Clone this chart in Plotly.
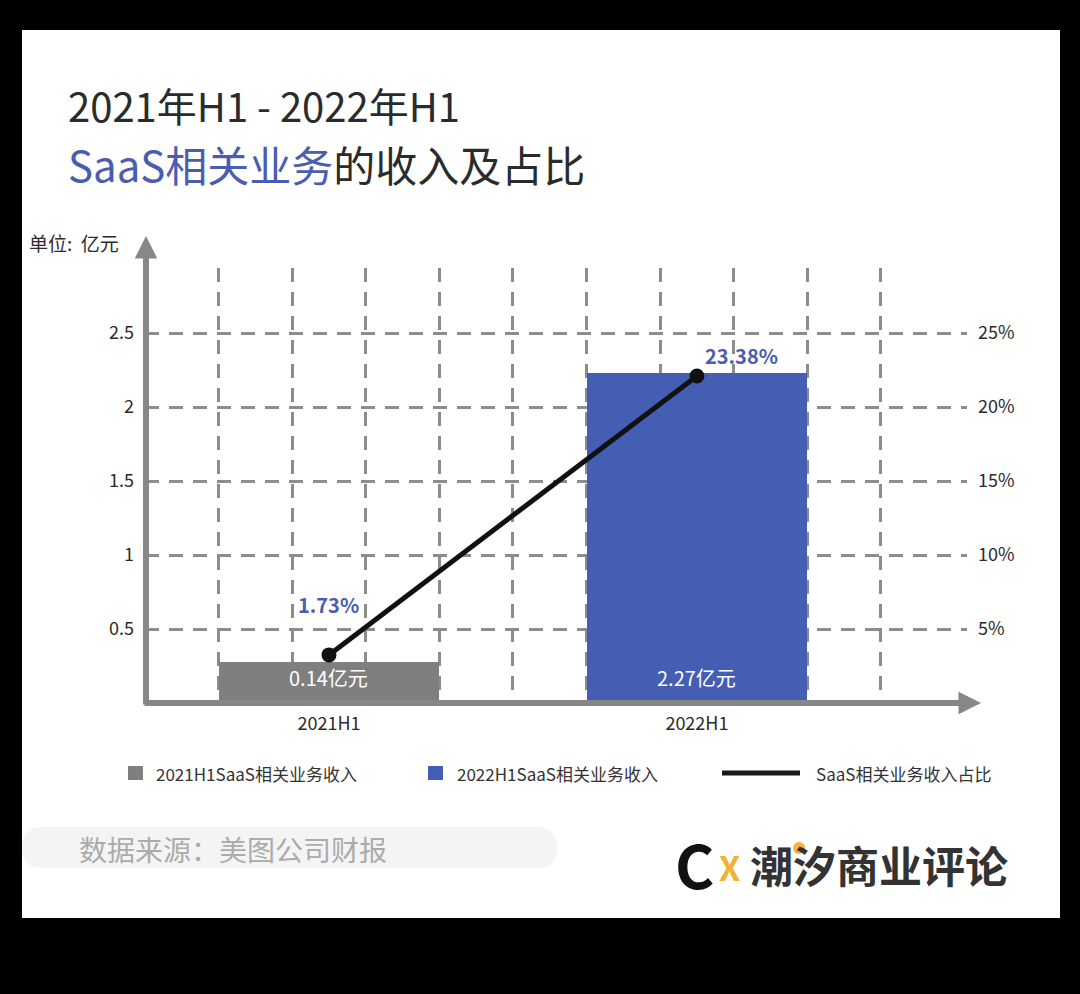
import plotly.graph_objects as go

# ---------------- data ----------------
categories = ["2021H1", "2022H1"]
revenue_values = [0.28, 2.23]          # bar heights as drawn (亿元)
revenue_labels = ["0.14亿元", "2.27亿元"]
share_values = [3.25, 22.1]            # line points as drawn (%)
share_labels = ["1.73%", "23.38%"]
series_names = ["2021H1SaaS相关业务收入", "2022H1SaaS相关业务收入", "SaaS相关业务收入占比"]
left_ticks = [0.5, 1, 1.5, 2, 2.5]
left_ticktext = ["0.5", "1", "1.5", "2", "2.5"]
right_ticks = [5, 10, 15, 20, 25]
right_ticktext = ["5%", "10%", "15%", "20%", "25%"]

# ---------------- layout helpers ----------------
W, H = 1080, 994
L, R, T, B = 145, 967, 268, 703
FONT = "Noto Sans CJK SC"
GRID = "#8c8c8c"
AXIS = "#878787"
BLUE = "#435eb2"
GRAY = "#7f7f7f"
TXT = "#2b2b2b"


def px(x):
    return (x - L) / (R - L)


def py(y):
    return (B - y) / (B - T)


x_pos = [2.5 + 5 * i for i in range(len(categories))]

fig = go.Figure()
fig.add_trace(go.Bar(
    x=x_pos, y=revenue_values, width=3,
    marker=dict(color=[GRAY, BLUE], line=dict(width=0)),
    hoverinfo="skip", showlegend=False,
))
fig.add_trace(go.Scatter(
    x=x_pos, y=share_values, yaxis="y2", mode="lines+markers",
    line=dict(color="#111111", width=5),
    marker=dict(size=15, color="#111111"),
    hoverinfo="skip", showlegend=False, cliponaxis=False,
))

shapes = []
annotations = []

# white card
shapes.append(dict(type="rect", xref="paper", yref="paper", layer="below",
                   x0=px(22), x1=px(1060), y0=py(918), y1=py(30),
                   fillcolor="white", line=dict(width=0)))

# titles
annotations.append(dict(xref="paper", yref="paper", x=px(66), y=py(105),
                        xanchor="left", yanchor="middle", showarrow=False,
                        text="2021年H1 - 2022年H1",
                        font=dict(family=FONT, size=40, color=TXT)))
annotations.append(dict(xref="paper", yref="paper", x=px(66), y=py(163),
                        xanchor="left", yanchor="middle", showarrow=False,
                        text="<span style='color:#4a5db0'>SaaS相关业务</span>的收入及占比",
                        font=dict(family=FONT, size=42, color=TXT)))

# unit
annotations.append(dict(xref="paper", yref="paper", x=px(27), y=py(243),
                        xanchor="left", yanchor="middle", showarrow=False,
                        text="单位:  亿元", font=dict(family=FONT, size=19, color=TXT)))

# axis arrows
annotations.append(dict(xref="paper", yref="paper", x=px(146), y=py(236),
                        ax=0, ay=470, text="", showarrow=True, arrowhead=2,
                        arrowsize=0.75, arrowwidth=6, arrowcolor=AXIS, standoff=0))
annotations.append(dict(xref="paper", yref="paper", x=px(981), y=py(703),
                        ax=-838, ay=0, text="", showarrow=True, arrowhead=2,
                        arrowsize=0.75, arrowwidth=6, arrowcolor=AXIS, standoff=0))

# bar labels
for i, lab in enumerate(revenue_labels):
    annotations.append(dict(x=x_pos[i], y=0, xref="x", yref="y",
                            xanchor="center", yanchor="bottom", yshift=9,
                            showarrow=False, text=lab,
                            font=dict(family=FONT, size=20, color="white")))

# share labels
share_offsets = [(0, 50), (45, 21)]
for i, lab in enumerate(share_labels):
    dx, dy = share_offsets[i]
    annotations.append(dict(x=x_pos[i], y=share_values[i], xref="x", yref="y2",
                            xanchor="center", yanchor="middle",
                            xshift=dx, yshift=dy, showarrow=False, text=f"<b>{lab}</b>",
                            font=dict(family=FONT, size=20, color="#4a5db0")))

# manual legend
leg_y = 773
for (x0, x1), col in zip([(128, 143), (428, 443)], [GRAY, BLUE]):
    shapes.append(dict(type="rect", xref="paper", yref="paper",
                       x0=px(x0), x1=px(x1), y0=py(leg_y + 7), y1=py(leg_y - 7),
                       fillcolor=col, line=dict(width=0)))
shapes.append(dict(type="line", xref="paper", yref="paper",
                   x0=px(722), x1=px(800), y0=py(leg_y), y1=py(leg_y),
                   line=dict(color="#1a1a1a", width=5)))
for xt, name in zip([154, 455, 814], series_names):
    annotations.append(dict(xref="paper", yref="paper", x=px(xt), y=py(leg_y),
                            xanchor="left", yanchor="middle", showarrow=False,
                            text=name, font=dict(family=FONT, size=17, color="#333333")))

# source pill
x0, x1, y0, y1 = px(22), px(557), py(868), py(827)
rx = 20 / (R - L)
ry = 20 / (B - T)
path = (f"M{x0 + rx},{y1} L{x1 - rx},{y1} Q{x1},{y1} {x1},{y1 - ry} "
        f"L{x1},{y0 + ry} Q{x1},{y0} {x1 - rx},{y0} L{x0 + rx},{y0} "
        f"Q{x0},{y0} {x0},{y0 + ry} L{x0},{y1 - ry} Q{x0},{y1} {x0 + rx},{y1} Z")
shapes.append(dict(type="path", xref="paper", yref="paper", path=path,
                   fillcolor="#f4f4f4", line=dict(width=0)))
annotations.append(dict(xref="paper", yref="paper", x=px(77), y=py(849),
                        xanchor="left", yanchor="middle", showarrow=False,
                        text="数据来源：美图公司财报",
                        font=dict(family=FONT, size=28, color="#ababab")))

# logo
annotations.append(dict(xref="paper", yref="paper", x=px(694), y=py(862),
                        xanchor="center", yanchor="middle", showarrow=False,
                        text="<b>C</b>", font=dict(family=FONT, size=60, color="#111111")))
annotations.append(dict(xref="paper", yref="paper", x=px(729), y=py(866),
                        xanchor="center", yanchor="middle", showarrow=False,
                        text="<b>X</b>", font=dict(family=FONT, size=34, color="#f2b134")))
shapes.append(dict(type="circle", xref="paper", yref="paper",
                   x0=px(793), x1=px(805), y0=py(854), y1=py(842),
                   fillcolor="#f4b43a", line=dict(width=0)))
annotations.append(dict(xref="paper", yref="paper", x=px(879), y=py(864),
                        xanchor="center", yanchor="middle", showarrow=False,
                        text="<b>潮汐商业评论</b>",
                        font=dict(family=FONT, size=43, color="#333333")))

fig.update_layout(
    width=W, height=H,
    margin=dict(l=L, r=W - R, t=T, b=H - B, pad=0),
    paper_bgcolor="black", plot_bgcolor="rgba(0,0,0,0)",
    bargap=0, showlegend=False,
    shapes=shapes, annotations=annotations,
    xaxis=dict(range=[0, 11.17], tickvals=x_pos, ticktext=categories,
               showgrid=False, zeroline=False, showline=False, ticks="",
               ticklabelstandoff=8,
               tickfont=dict(family=FONT, size=18, color=TXT),
               minor=dict(tickvals=list(range(1, 11)), showgrid=True,
                          gridcolor=GRID, gridwidth=3, griddash="14px,10px",
                          ticks="")),
    yaxis=dict(range=[0, 2.94], tickvals=left_ticks, ticktext=left_ticktext,
               showgrid=True, gridcolor=GRID, gridwidth=3, griddash="14px,10px",
               zeroline=False, showline=False, ticks="", ticklabelstandoff=10,
               tickfont=dict(family=FONT, size=18, color=TXT)),
    yaxis2=dict(range=[0, 29.4], overlaying="y", side="right",
                tickvals=right_ticks, ticktext=right_ticktext,
                showgrid=False, zeroline=False, showline=False, ticks="",
                ticklabelstandoff=10,
                tickfont=dict(family=FONT, size=18, color=TXT)),
)

fig.write_html(
    "out.html",
    config={"displayModeBar": False},
    post_script="document.body.style.margin='0';document.body.style.background='black';",
)
